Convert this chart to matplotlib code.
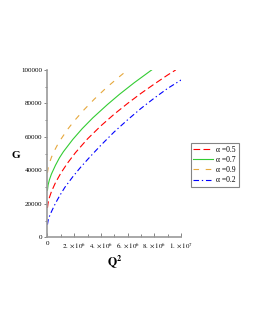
import matplotlib
matplotlib.use('Agg')
import matplotlib.pyplot as plt

# values
q2_09 = [0, 0.05e6, 0.15e6, 0.3e6, 0.5e6, 0.75e6, 1.0e6, 1.5e6, 2.0e6, 2.75e6, 3.5e6, 4.4e6, 5.25e6, 6.0e6]
g_09 = [38500, 41200, 44400, 47800, 51400, 55200, 58500, 64400, 69500, 76300, 82500, 89300, 95100, 100000]

q2_07 = [0, 0.05e6, 0.15e6, 0.3e6, 0.6e6, 0.9e6, 1.2e6, 1.9e6, 2.6e6, 3.4e6, 4.5e6, 5.4e6, 6.5e6, 7.8e6]
g_07 = [28000, 31300, 34400, 37800, 43000, 47500, 51200, 58500, 64900, 71400, 79400, 85500, 92400, 100000]

q2_05 = [0, 0.05e6, 0.15e6, 0.3e6, 0.6e6, 1.0e6, 1.5e6, 2.1e6, 3.0e6, 4.0e6, 5.0e6, 6.0e6, 7.0e6, 8.0e6, 9.0e6, 9.6e6]
g_05 = [17500, 20500, 23800, 27300, 32600, 38300, 44300, 50600, 58800, 66600, 73600, 80000, 86000, 91600, 97000, 100000]

q2_02 = [0, 0.05e6, 0.15e6, 0.3e6, 0.6e6, 0.9e6, 1.3e6, 1.9e6, 2.5e6, 3.2e6, 4.0e6, 5.0e6, 6.0e6, 7.0e6, 8.0e6, 9.0e6, 10.0e6]
g_02 = [7500, 10000, 12500, 15300, 20300, 24600, 29800, 36200, 42000, 48200, 55000, 63000, 70200, 77000, 83200, 89000, 94000]

x_ticks = [0, 2e6, 4e6, 6e6, 8e6, 1e7]
x_labels = ['0', r'$2.\times10^{6}$', r'$4.\times10^{6}$', r'$6.\times10^{6}$', r'$8.\times10^{6}$', r'$1.\times10^{7}$']
y_ticks = [0, 20000, 40000, 60000, 80000, 100000]
y_labels = ['0', '20000', '40000', '60000', '80000', '100000']

plt.rcParams['font.family'] = ['Liberation Serif', 'DejaVu Serif']
plt.rcParams['mathtext.fontset'] = 'stix'

fig = plt.figure(figsize=(2.55, 3.3), dpi=100)
ax = fig.add_axes([0.186, 0.281, 0.524, 0.507])

l1, = ax.plot(q2_05, g_05, color='#ff0000', lw=0.8, dashes=(6, 3), label='α =0.5')
l2, = ax.plot(q2_07, g_07, color='#33cc33', lw=0.8, label='α =0.7')
l3, = ax.plot(q2_09, g_09, color='#e6a83c', lw=0.8, dashes=(5, 6), label='α =0.9')
l4, = ax.plot(q2_02, g_02, color='#0000ff', lw=0.8, dashes=(5, 2.5, 1.2, 2.5), label='α =0.2')

ax.set_xlim(0, 1e7)
ax.set_ylim(0, 100000)
for s in ['top', 'right']:
    ax.spines[s].set_visible(False)
for s in ['left', 'bottom']:
    ax.spines[s].set_color('#999999')
    ax.spines[s].set_linewidth(1.2)

ax.set_xticks(x_ticks)
ax.set_xticklabels(x_labels)
ax.set_yticks(y_ticks)
ax.set_yticklabels(y_labels)
ax.set_xticks([1e6, 3e6, 5e6, 7e6, 9e6], minor=True)
ax.set_yticks([10000, 30000, 50000, 70000, 90000], minor=True)
ax.tick_params(axis='x', direction='in', length=3, width=0.5, color='#555555', labelsize=5, pad=3)
ax.tick_params(axis='x', which='minor', direction='in', length=2, width=0.5, color='#555555')
ax.tick_params(axis='y', direction='out', length=2.5, width=0.5, color='#555555', labelsize=5, pad=1)
ax.tick_params(axis='y', which='minor', direction='out', length=1.5, width=0.5, color='#555555')

fig.text(16 / 255, 1 - 155 / 330, 'G', fontsize=8, fontweight='bold', ha='center', va='center')
fig.text(115 / 255, 1 - 262 / 330, r'$\mathbf{Q^2}$', fontsize=8.5, ha='center', va='center')

leg = fig.legend(handles=[l1, l2, l3, l4], loc='upper left', bbox_to_anchor=(0.748, 0.567),
                 fontsize=5.5, frameon=True, fancybox=False, handlelength=2.6, handletextpad=0.4,
                 labelspacing=0.3, borderpad=0.35, borderaxespad=0)
leg.get_frame().set_edgecolor('#666666')
leg.get_frame().set_linewidth(0.8)

fig.savefig('out.png', dpi=100)
